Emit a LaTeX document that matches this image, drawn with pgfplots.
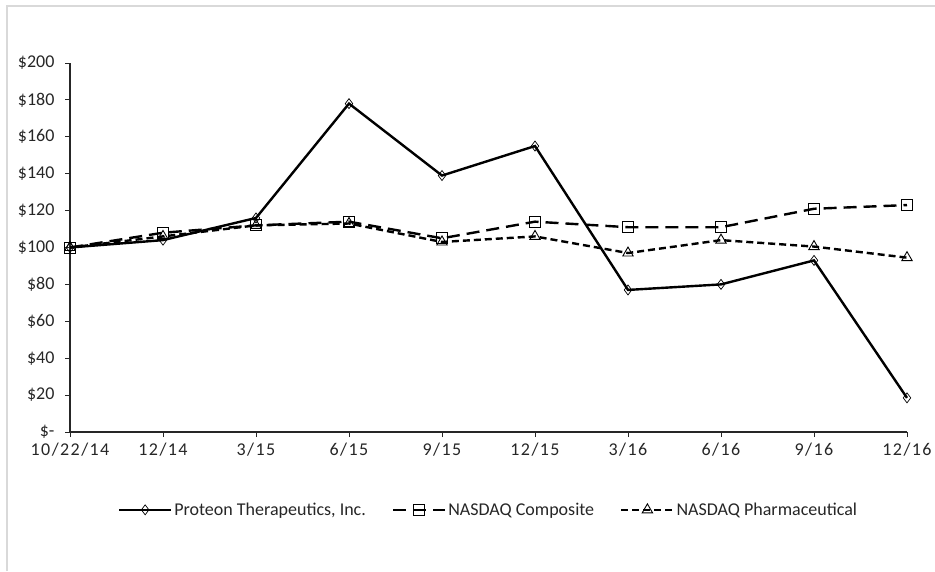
\documentclass[border=0pt]{standalone}
\usepackage{pgfplots}
\pgfplotsset{compat=1.18}
\usepackage{fontspec}
\setmainfont{Carlito}
\newfontfamily\spaced[LetterSpace=8]{Carlito}
\definecolor{framegray}{RGB}{217,217,217}
\definecolor{txt}{RGB}{38,38,38}

\begin{document}
\begin{tikzpicture}[x=1pt,y=1pt]
\useasboundingbox (0,0) rectangle (935,571);
\draw[framegray, line width=1.2pt] (7,0) -- (7,565) -- (935,565);
\begin{axis}[
    at={(70pt,139pt)}, anchor=south west,
    scale only axis, width=837pt, height=369pt,
    xmin=0, xmax=9, ymin=0, ymax=200,
    axis x line*=bottom, axis y line*=left,
    axis line style={line width=1.1pt, black!85},
    xtick={0,...,9},
    xticklabels={10/22/14,12/14,3/15,6/15,9/15,12/15,3/16,6/16,9/16,12/16},
    ytick={0,20,...,200},
    yticklabels={\$-,\$20,\$40,\$60,\$80,\$100,\$120,\$140,\$160,\$180,\$200},
    tick align=outside, major tick length=5pt,
    tick style={line width=1pt, black!85},
    ticklabel style={font=\fontsize{18}{20}\selectfont, text=txt},
    xticklabel style={font=\fontsize{18}{20}\selectfont\spaced, yshift=-2pt},
    yticklabel style={xshift=-7pt},
    clip=false,
    legend columns=3,
    legend style={draw=none, fill=none, at={(0.5,-0.211)}, anchor=center,
        font=\fontsize{18}{20}\selectfont, text=txt,
        /tikz/every even column/.append style={column sep=24pt}},
    legend image code/.code={\draw[mark repeat=2,mark phase=2,#1]
        plot coordinates {(0pt,0pt) (26pt,0pt) (52pt,0pt)};},
]
\addplot[black, line width=2.4pt, mark=diamond, mark size=5pt,
    mark options={solid, fill=white, line width=0.7pt}]
    coordinates {(0,100) (1,104) (2,116) (3,178) (4,139) (5,155) (6,77) (7,80) (8,93) (9,18.5)};
\addlegendentry{Proteon Therapeutics, Inc.}
\addplot[black, line width=2.4pt, dash pattern=on 13pt off 7pt, mark=square, mark size=5.5pt,
    mark options={solid, fill=white, line width=0.9pt}]
    coordinates {(0,100) (1,108) (2,112) (3,114) (4,105) (5,114) (6,111) (7,111) (8,121) (9,123)};
\addlegendentry{NASDAQ Composite}
\addplot[black, line width=2.4pt, dash pattern=on 7pt off 4pt, mark=triangle, mark size=6pt,
    mark options={solid, fill=white, line width=0.9pt}]
    coordinates {(0,100) (1,106) (2,112) (3,113) (4,103) (5,106) (6,97) (7,104) (8,100.5) (9,94.5)};
\addlegendentry{NASDAQ Pharmaceutical}
\end{axis}
\end{tikzpicture}
\end{document}
